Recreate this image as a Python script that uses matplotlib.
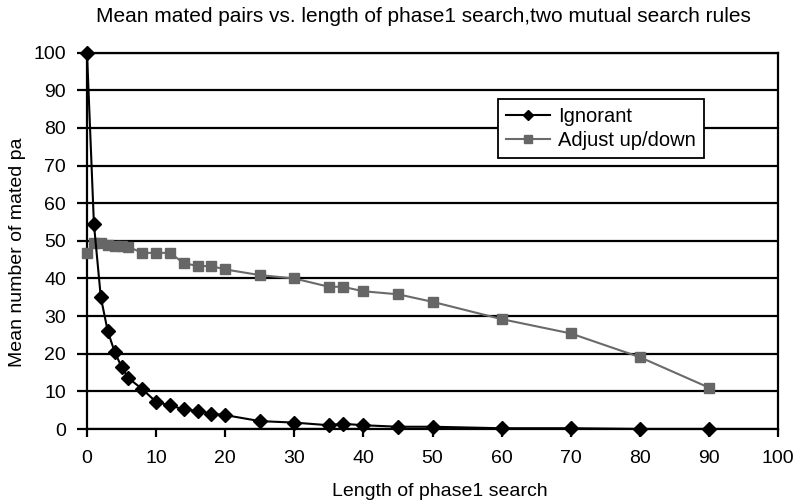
import matplotlib
matplotlib.use("Agg")
import matplotlib.pyplot as plt

plt.rcParams['font.family'] = ['Liberation Sans', 'DejaVu Sans']

ign_x = [0, 1, 2, 3, 4, 5, 6, 8, 10, 12, 14, 16, 18, 20, 25, 30, 35, 37, 40, 45, 50, 60, 70, 80, 90]
ign_y = [100, 54.5, 35, 26, 20.5, 16.5, 13.5, 10.6, 7.2, 6.3, 5.2, 4.8, 4.1, 3.7, 2.1, 1.7, 1.0, 1.4, 1.0, 0.6, 0.6, 0.2, 0.2, 0.0, 0.0]

adj_x = [0, 1, 2, 3, 4, 5, 6, 8, 10, 12, 14, 16, 18, 20, 25, 30, 35, 37, 40, 45, 50, 60, 70, 80, 90]
adj_y = [46.8, 49.3, 49.3, 48.8, 48.7, 48.7, 48.4, 46.8, 46.8, 46.8, 44.1, 43.3, 43.3, 42.4, 40.9, 40.0, 37.8, 37.8, 36.6, 35.8, 33.8, 29.2, 25.4, 19.1, 11.0]

x_ticks = list(range(0, 101, 10))
y_ticks = list(range(0, 101, 10))

W, H = 796, 504
L, R, T, B = 87, 778, 52.7, 429

fig = plt.figure(figsize=(W / 100, H / 100), dpi=100)
ax = fig.add_axes([L / W, 1 - B / H, (R - L) / W, (B - T) / H])

ax.set_xlim(0, 100)
ax.set_ylim(0, 100)
ax.set_xticks(x_ticks)
ax.set_yticks(y_ticks)
ax.yaxis.grid(True, color='black', linewidth=1.6)
ax.set_axisbelow(True)
for s in ax.spines.values():
    s.set_color('black')
    s.set_linewidth(1.6)

ax.plot(ign_x, ign_y, color='black', linewidth=1.5, marker='D', markersize=7,
        markerfacecolor='black', markeredgecolor='black', label='Ignorant', zorder=4, clip_on=False)
ax.plot(adj_x, adj_y, color='#6a6a6a', linewidth=1.5, marker='s', markersize=7.5,
        markerfacecolor='#666666', markeredgecolor='#666666', label='Adjust up/down', zorder=3, clip_on=False)

ax.tick_params(axis='both', labelsize=14, width=1.6, color='black', direction='out')
ax.tick_params(axis='y', length=7, pad=8)
ax.tick_params(axis='x', length=6, pad=9)

leg = ax.legend(loc='upper left', bbox_to_anchor=((498 - L) / (R - L), (B - 99) / (B - T)),
                borderaxespad=0, fontsize=14.5, frameon=True, fancybox=False, edgecolor='black',
                framealpha=1, borderpad=0.4, handlelength=2.2, handletextpad=0.4,
                labelspacing=0.25, markerscale=0.8)
leg.get_frame().set_linewidth(1.3)

ax.set_xlabel('Length of phase1 search', fontsize=14)
ax.xaxis.set_label_coords((440 - L) / (R - L), (B - 491) / (B - T))
ax.xaxis.label.set_va('center')
ax.set_ylabel('Mean number of mated pa', fontsize=14)
ax.yaxis.set_label_coords((18 - L) / (R - L), (B - 252) / (B - T))
ax.yaxis.label.set_va('center')
fig.text(423 / W, 1 - 17 / H, 'Mean mated pairs vs. length of phase1 search,two mutual search rules',
         ha='center', va='center', fontsize=15)

fig.savefig('out.png', dpi=100)
